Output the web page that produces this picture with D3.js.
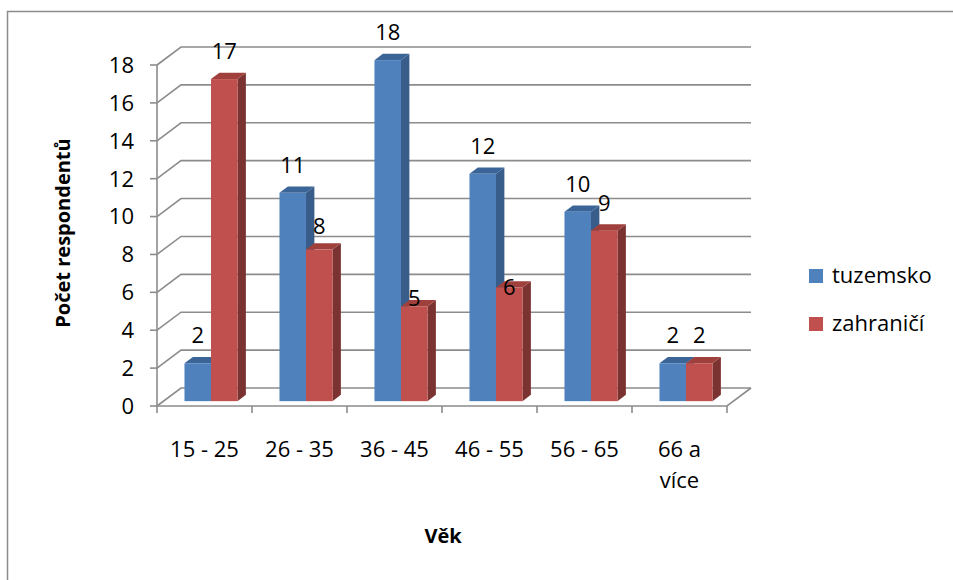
<!DOCTYPE html>
<html>
<head>
<meta charset="utf-8">
<script src="https://cdn.jsdelivr.net/npm/d3@7"></script>
<style>
  body { margin: 0; background: #fff; }
  text { font-family: "Open Sans", "DejaVu Sans", sans-serif; fill: #000; }
</style>
</head>
<body>
<div id="chart"></div>
<script>
// chart data
var categories = ["15 - 25", "26 - 35", "36 - 45", "46 - 55", "56 - 65", "66 a více"];
var seriesNames = ["tuzemsko", "zahraničí"];
var tuzemsko = [2, 11, 18, 12, 10, 2];
var zahranici = [17, 8, 5, 6, 9, 2];
var yTicks = [0, 2, 4, 6, 8, 10, 12, 14, 16, 18];

var colors = [
    { front: "#4f81bd", top: "#3b6597", side: "#385d8a" },
    { front: "#c0504d", top: "#a0403d", side: "#7b3331" }
];

var width = 953, height = 580;
var depthX = 24, depthY = 18;     // full depth of the 3d box
var zFront = 0.27, zBack = 0.62;  // bar position inside the depth

var svg = d3.select("#chart").append("svg")
    .attr("width", width)
    .attr("height", height);

// outer chart border
svg.append("rect")
    .attr("x", 7.5).attr("y", 11.5)
    .attr("width", 980).attr("height", 620)
    .attr("fill", "none")
    .attr("stroke", "#8c8c8c")
    .attr("stroke-width", 1.5);

var x = d3.scaleBand()
    .domain(categories)
    .range([157, 727])
    .paddingInner(0.442)
    .paddingOuter(0.221);

var xSub = d3.scaleBand()
    .domain(seriesNames)
    .range([0, x.bandwidth()]);

var y = d3.scaleLinear()
    .domain([0, 18])
    .range([406, 65]);

// projects a point on the front plane back by z (0..1) of the depth
function proj(px, v, z) {
    return [px + z * depthX, y(v) - z * depthY];
}

var grid = svg.append("g")
    .attr("stroke", "#8c8c8c")
    .attr("stroke-width", 1.6)
    .attr("fill", "none");

var x0 = x.range()[0], x1 = x.range()[1];

yTicks.forEach(function(t) {
    var a = proj(x0, t, 0), b = proj(x0, t, 1), c = proj(x1, t, 1);
    grid.append("path")
        .attr("d", "M" + a + "L" + b + "L" + c);
    // tick mark on the front axis
    grid.append("line")
        .attr("x1", a[0] - 7).attr("x2", a[0])
        .attr("y1", a[1]).attr("y2", a[1]);
});

// floor front edge + right side
var f0 = proj(x0, 0, 0), f1 = proj(x1, 0, 0), f2 = proj(x1, 0, 1);
grid.append("path").attr("d", "M" + f0 + "L" + f1 + "L" + f2);

// vertical axis line
grid.append("line")
    .attr("x1", x0).attr("x2", x0)
    .attr("y1", y(0)).attr("y2", y(18));

// category tick marks
d3.range(categories.length + 1).forEach(function(i) {
    var px = x0 + i * x.step();
    grid.append("line")
        .attr("x1", px).attr("x2", px)
        .attr("y1", y(0)).attr("y2", y(0) + 7);
});

// y tick labels
svg.append("g").selectAll("text")
    .data(yTicks)
    .join("text")
    .attr("x", 134)
    .attr("y", function(d) { return y(d); })
    .attr("dy", "0.36em")
    .attr("text-anchor", "end")
    .style("font-size", "22px")
    .text(function(d) { return d; });

// category labels (wrap "66 a více")
var catLabels = svg.append("g");
categories.forEach(function(c) {
    var lines = c == "66 a více" ? ["66 a", "více"] : [c];
    var t = catLabels.append("text")
        .attr("text-anchor", "middle")
        .style("font-size", "22px");
    lines.forEach(function(l, i) {
        t.append("tspan")
            .attr("x", x(c) + x.bandwidth() / 2)
            .attr("y", 457 + i * 31)
            .text(l);
    });
});

// bars
var values = [tuzemsko, zahranici];
var bars = svg.append("g");

// manual nudges of some value labels (as in the source chart)
var labelShift = { "1-1": 4, "1-2": 20, "1-3": 28 };

categories.forEach(function(c, ci) {
    seriesNames.forEach(function(s, si) {
        var v = values[si][ci];
        var col = colors[si];
        var left = x(c) + xSub(s);
        var right = left + xSub.bandwidth();

        var fl = proj(left, 0, zFront), fr = proj(right, v, zFront);
        var bl = proj(left, v, zBack), br = proj(right, v, zBack);
        var brb = proj(right, 0, zBack), frb = proj(right, 0, zFront);
        var ftl = proj(left, v, zFront);

        // side
        bars.append("path")
            .attr("d", "M" + frb + "L" + fr + "L" + br + "L" + brb + "Z")
            .attr("fill", col.side);
        // top
        bars.append("path")
            .attr("d", "M" + ftl + "L" + fr + "L" + br + "L" + bl + "Z")
            .attr("fill", col.top);
        // front
        bars.append("rect")
            .attr("x", fl[0])
            .attr("y", fr[1])
            .attr("width", right - left)
            .attr("height", fl[1] - fr[1])
            .attr("fill", col.front);
    });
});

// value labels drawn over the bars
categories.forEach(function(c, ci) {
    seriesNames.forEach(function(s, si) {
        var v = values[si][ci];
        var left = x(c) + xSub(s);
        var p = proj(left + xSub.bandwidth() / 2, v, zFront);
        var shift = labelShift[si + "-" + ci] || 0;
        bars.append("text")
            .attr("x", p[0])
            .attr("y", p[1] - 20 + shift)
            .attr("text-anchor", "middle")
            .style("font-size", "22px")
            .text(v);
    });
});

// legend
var legend = svg.append("g");
seriesNames.forEach(function(s, i) {
    legend.append("rect")
        .attr("x", 809).attr("y", 269 + i * 48)
        .attr("width", 14).attr("height", 14)
        .attr("fill", colors[i].front);
    legend.append("text")
        .attr("x", 832).attr("y", 283 + i * 48)
        .style("font-size", "22px")
        .text(s);
});

// axis titles
svg.append("text")
    .attr("transform", "translate(70,233) rotate(-90)")
    .attr("text-anchor", "middle")
    .style("font-size", "20px")
    .style("font-weight", "bold")
    .text("Počet respondentů");

svg.append("text")
    .attr("x", 443).attr("y", 543)
    .attr("text-anchor", "middle")
    .style("font-size", "20px")
    .style("font-weight", "bold")
    .text("Věk");
</script>
</body>
</html>
